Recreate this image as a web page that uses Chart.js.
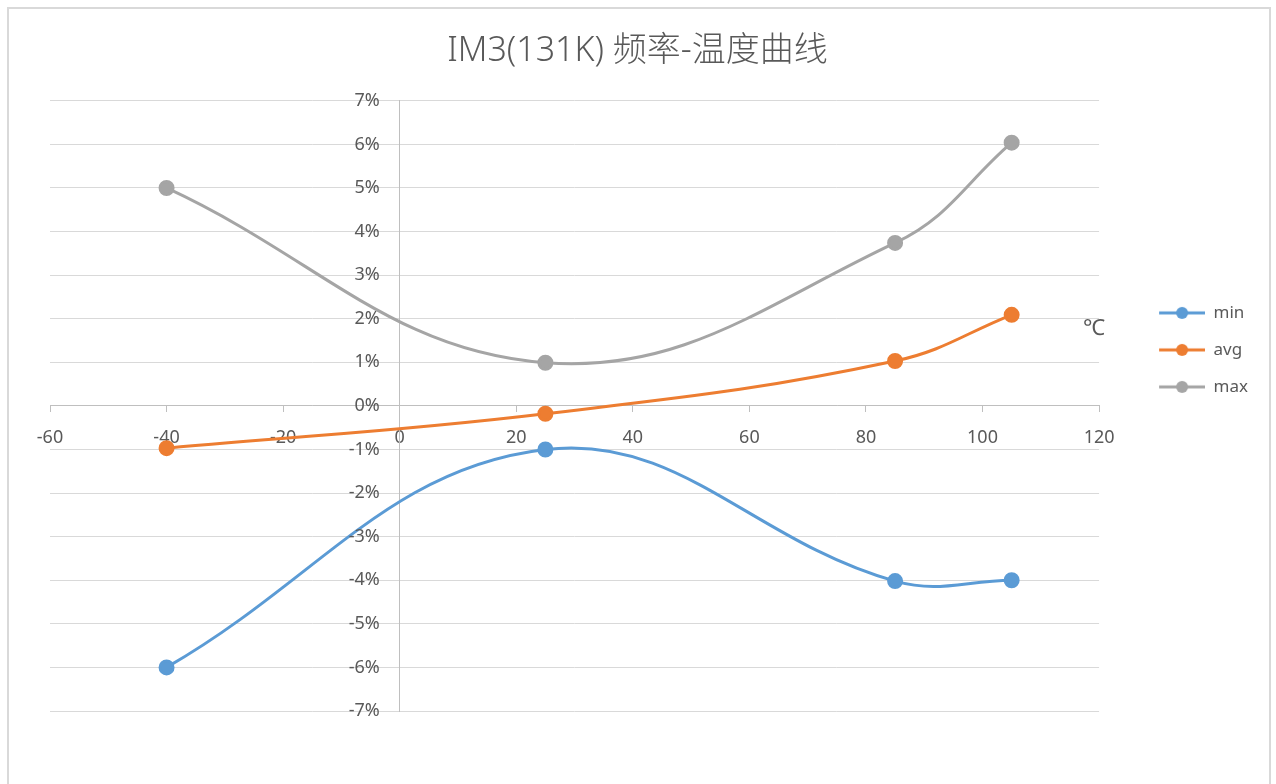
<!DOCTYPE html>
<html>
<head>
<meta charset="utf-8">
<script src="https://cdn.jsdelivr.net/npm/chart.js@4"></script>
<style>
  html, body { margin: 0; padding: 0; background: #fff; overflow: hidden; }
  #wrap { position: absolute; left: 0; top: 0; width: 1276px; height: 784px; }
  #frame { position: absolute; left: 7px; top: 7px; width: 1260px; height: 820px;
           border: 2px solid #d9d9d9; pointer-events: none; }
</style>
</head>
<body>
<div id="wrap"><canvas id="freqChart" width="1276" height="784"></canvas></div>
<div id="frame"></div>
<script>
// températures (°C)
const temps = [-40, 25, 85, 105];
// écart de fréquence (%)
const minVals = [-6, -1, -4.02, -4];
const avgVals = [-0.97, -0.18, 1.03, 2.09];
const maxVals = [5, 0.99, 3.74, 6.04];

const seriesNames = ["min", "avg", "max"];
const seriesColors = ["#5b9bd5", "#ed7d31", "#a5a5a5"];

const xTicks = [-60, -40, -20, 0, 20, 40, 60, 80, 100, 120];
const yTicks = [-7, -6, -5, -4, -3, -2, -1, 0, 1, 2, 3, 4, 5, 6, 7];

const txtColor = "#595959";
const fontFam = "'Noto Sans', 'Noto Sans CJK SC', sans-serif";

// petite icône de légende : trait + point
function legendIcon(color) {
  const c = document.createElement('canvas');
  c.width = 86; c.height = 14;
  const g = c.getContext('2d');
  g.strokeStyle = color; g.lineWidth = 3;
  g.beginPath(); g.moveTo(40, 7); g.lineTo(86, 7); g.stroke();
  g.fillStyle = color;
  g.beginPath(); g.arc(63, 7, 6, 0, Math.PI * 2); g.fill();
  return c;
}

function toPoints(vals) {
  return temps.map((t, i) => ({ x: t, y: vals[i] }));
}

const allVals = [minVals, avgVals, maxVals];
const datasets = seriesNames.map((name, i) => ({
  label: name,
  data: toPoints(allVals[i]),
  xAxisID: 'x',
  yAxisID: 'y',
  borderColor: seriesColors[i],
  backgroundColor: seriesColors[i],
  borderWidth: 3,
  pointRadius: 6.5,
  pointHoverRadius: 6.5,
  pointStyle: 'circle',
  showLine: true,
  tension: 0.4
}));

// libellés Y (écartés de l'axe 0) et unité ℃
const axisText = {
  id: 'axisText',
  afterDraw(chart) {
    const { ctx, scales: { x, y } } = chart;
    const x0 = x.getPixelForValue(0);
    ctx.save();
    ctx.fillStyle = txtColor;
    ctx.font = "18px " + fontFam;
    ctx.textAlign = 'right';
    ctx.textBaseline = 'middle';
    y.ticks.forEach(t => {
      ctx.fillText(t.value + '%', x0 - 20, y.getPixelForValue(t.value));
    });
    ctx.font = "22px " + fontFam;
    ctx.textAlign = 'left';
    ctx.fillText('℃', x.right - 16, y.getPixelForValue(1.78));
    ctx.restore();
  }
};

const tickFont = { family: fontFam, size: 18 };

const ctx = document.getElementById('freqChart').getContext('2d');
new Chart(ctx, {
  type: 'scatter',
  data: { datasets },
  plugins: [axisText],
  options: {
    responsive: false,
    animation: false,
    layout: { padding: { left: 17, right: 18, top: 0, bottom: 73 } },
    plugins: {
      title: {
        display: true,
        text: "IM3(131K) 频率-温度曲线",
        color: txtColor,
        font: { family: fontFam, size: 34, weight: 300 },
        padding: { top: 31, bottom: 29 }
      },
      legend: {
        position: 'right',
        align: 'start',
        title: { display: true, text: ' ', font: { size: 12 }, padding: { top: 0, bottom: 270 } },
        labels: {
          usePointStyle: true,
          pointStyleWidth: 86,
          padding: 20,
          color: txtColor,
          font: { family: fontFam, size: 17 },
          generateLabels(chart) {
            return chart.data.datasets.map((d, i) => ({
              text: d.label,
              fontColor: txtColor,
              pointStyle: legendIcon(seriesColors[i]),
              datasetIndex: i,
              lineWidth: 0,
              strokeStyle: 'transparent',
              fillStyle: 'transparent'
            }));
          }
        }
      },
      tooltip: { enabled: false }
    },
    scales: {
      x: {
        type: 'linear',
        position: { y: 0 },
        min: xTicks[0],
        max: xTicks[xTicks.length - 1],
        afterBuildTicks: s => { s.ticks = xTicks.map(v => ({ value: v })); },
        grid: { drawOnChartArea: false, drawTicks: true, tickLength: 6, color: '#bfbfbf' },
        border: { color: '#bfbfbf', width: 1 },
        ticks: { color: txtColor, font: tickFont, padding: 15 }
      },
      y: {
        type: 'linear',
        position: { x: 0 },
        min: yTicks[0],
        max: yTicks[yTicks.length - 1],
        afterBuildTicks: s => { s.ticks = yTicks.map(v => ({ value: v })); },
        grid: { color: '#d9d9d9', drawTicks: false },
        border: { color: '#bfbfbf', width: 1 },
        ticks: { display: false }
      },
      // marge vide à gauche pour garder le titre centré sur la page
      pad: {
        type: 'linear',
        axis: 'y',
        position: 'left',
        grid: { display: false },
        border: { display: false },
        ticks: { display: false },
        afterFit: s => { s.width = 33; }
      }
    }
  }
});
</script>
</body>
</html>
